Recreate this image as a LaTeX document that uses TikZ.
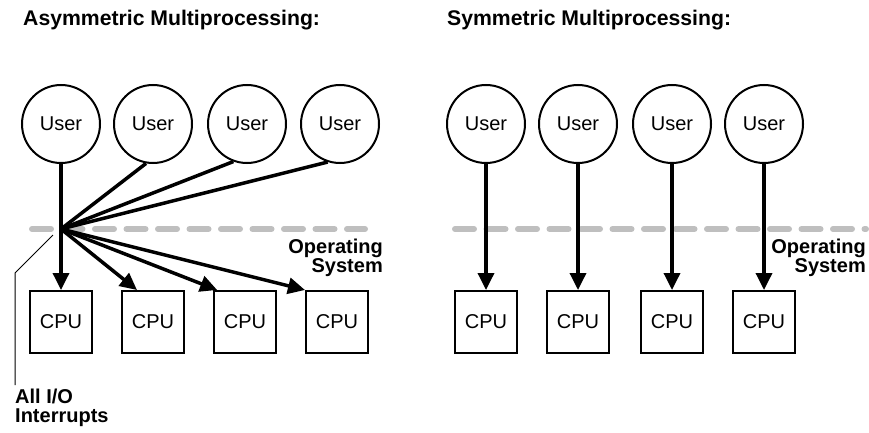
\documentclass[tikz,border=0pt]{standalone}
\usepackage{fontspec}
\setmainfont{Liberation Sans}
\usetikzlibrary{arrows.meta,positioning,calc}

\begin{document}
\begin{tikzpicture}[x=1pt,y=-1pt,>={Triangle[length=17pt,width=16pt]},
        font=\fontsize{20}{19}\selectfont,
        userc/.style={draw,circle,line width=2pt,minimum size=78pt,inner sep=0pt},
        cpubox/.style={draw,line width=2pt,minimum width=62pt,minimum height=62pt,inner sep=0pt},
        flow/.style={line width=3.5pt},
        osline/.style={line width=6pt,black!25,line cap=round,dash pattern=on 19pt off 12.5pt},
        lbl/.style={font=\fontsize{20}{18.5}\selectfont\bfseries,inner sep=0pt},
        title/.style={font=\fontsize{21.2}{24}\selectfont\bfseries,inner sep=0pt,anchor=base west}]
        \useasboundingbox (0,0) rectangle (869,433);

        % asymmetric side
        \node[title] (atitle) at (23,26) {Asymmetric Multiprocessing:};
        \draw[osline] (32,229) -- (365,229);
        \node[userc] (auser1) at (61,124) {User};
        \node[userc] (auser2) at (153,124) {User};
        \node[userc] (auser3) at (247,124) {User};
        \node[userc] (auser4) at (340,124) {User};
        \node[cpubox] (acpu1) at (61,322) {CPU};
        \node[cpubox] (acpu2) at (153,322) {CPU};
        \node[cpubox] (acpu3) at (245,322) {CPU};
        \node[cpubox] (acpu4) at (337,322) {CPU};
        \coordinate (hub) at (61,229);
        \node[lbl,align=right,anchor=east] (aos) at (383,258) {Operating\\System};
        \node[lbl,align=left,anchor=north west] (io) at (15,389) {All I/O\\Interrupts};
        \coordinate (iotip) at (53,235);

        \draw[flow,->] (auser1) -- (acpu1);
        \draw[flow] (auser2.-100) -- (hub);
        \draw[flow] (auser3.-110) -- (hub);
        \draw[flow] (auser4.-108) -- (hub);
        \draw[flow,->] (hub) -- ($(acpu2.north west)!0.5!(acpu2.north)$);
        \draw[flow,->] (hub) -- ($(acpu3.north west)!0.13!(acpu3.north)$);
        \draw[flow,->] (hub) -- (acpu4.north west);
        \draw[line width=1pt] ([yshift=4pt]io.north west) -- ++(0,-112) -- (iotip);

        % symmetric side
        \node[title] (stitle) at (447,26) {Symmetric Multiprocessing:};
        \draw[osline] (455,229) -- (866,229);
        \node[userc] (suser1) at (486,124) {User};
        \node[userc] (suser2) at (578,124) {User};
        \node[userc] (suser3) at (672,124) {User};
        \node[userc] (suser4) at (764,124) {User};
        \node[cpubox] (scpu1) at (486,322) {CPU};
        \node[cpubox] (scpu2) at (578,322) {CPU};
        \node[cpubox] (scpu3) at (672,322) {CPU};
        \node[cpubox] (scpu4) at (764,322) {CPU};
        \node[lbl,align=right,anchor=east] (sos) at (866,258) {Operating\\System};

        \draw[flow,->] (suser1) -- (scpu1);
        \draw[flow,->] (suser2) -- (scpu2);
        \draw[flow,->] (suser3) -- (scpu3);
        \draw[flow,->] (suser4) -- (scpu4);
    \end{tikzpicture}
\end{document}
